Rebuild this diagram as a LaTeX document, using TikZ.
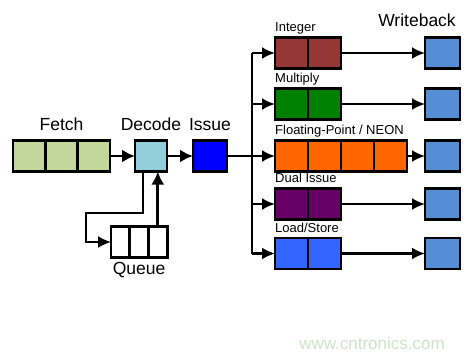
\documentclass[tikz,border=0pt]{standalone}
\usepackage{fontspec}
\setmainfont{Liberation Sans}
\usepackage{xcolor}
\usetikzlibrary{arrows.meta, positioning}

\definecolor{fetchgreen}{HTML}{C3D69B}
\definecolor{decodeblue}{HTML}{92CDDC}
\definecolor{issueblue}{HTML}{0000FF}
\definecolor{intbrown}{HTML}{953735}
\definecolor{mulgreen}{HTML}{008000}
\definecolor{fporange}{HTML}{FF6600}
\definecolor{dualpurple}{HTML}{660066}
\definecolor{lsublue}{HTML}{3366FF}
\definecolor{wbblue}{HTML}{558ED5}
\definecolor{watermark}{HTML}{CFE2C8}

\begin{document}
\begin{tikzpicture}[
        x=1pt, y=-1pt,
        cell/.style={
            draw,
            line width=2.8pt,
            outer sep=0pt,
            inner sep=0pt,
            minimum width=33pt,
            minimum height=31pt
        },
        qcell/.style={cell, fill=white, minimum width=18.7pt},
        biglabel/.style={font=\fontsize{17.5}{20}\selectfont, inner sep=0pt},
        smalllabel/.style={font=\fontsize{13}{15}\selectfont, inner sep=0pt, anchor=base west},
        arrow/.style={-{Latex[length=13pt, width=13pt]}, line width=2.8pt},
        thinarrow/.style={-{Latex[length=13pt, width=12pt]}, line width=2.2pt},
        bus/.style={line width=2.2pt}
    ]
        \useasboundingbox (0,0) rectangle (474,357);

        % front end
        \node[cell, fill=fetchgreen, minimum width=32.3pt] (fetch1) at (29.2,156) {};
        \node[cell, fill=fetchgreen, minimum width=32.3pt, right=0pt of fetch1] (fetch2) {};
        \node[cell, fill=fetchgreen, minimum width=32.3pt, right=0pt of fetch2] (fetch3) {};
        \node[cell, fill=decodeblue, minimum width=32pt] (decode) at (151,156) {};
        \node[cell, fill=issueblue, minimum width=34pt] (issue) at (210,156) {};

        \node[qcell] (queue1) at (120.4,242) {};
        \node[qcell, right=0pt of queue1] (queue2) {};
        \node[qcell, right=0pt of queue2] (queue3) {};

        \node[biglabel, above=10pt of fetch2] (fetchlabel) {Fetch};
        \node[biglabel, above=10pt of decode] (decodelabel) {Decode};
        \node[biglabel, above=10pt of issue] (issuelabel) {Issue};
        \node[biglabel, below=5pt of queue2] (queuelabel) {Queue};

        % execution pipelines
        \node[cell, fill=intbrown] (int1) at (291.5,53) {};
        \node[cell, fill=intbrown, right=0pt of int1] (int2) {};
        \node[cell, fill=mulgreen] (mul1) at (291.5,104) {};
        \node[cell, fill=mulgreen, right=0pt of mul1] (mul2) {};
        \node[cell, fill=fporange] (fp1) at (291.5,156) {};
        \node[cell, fill=fporange, right=0pt of fp1] (fp2) {};
        \node[cell, fill=fporange, right=0pt of fp2] (fp3) {};
        \node[cell, fill=fporange, right=0pt of fp3] (fp4) {};
        \node[cell, fill=dualpurple] (dual1) at (291.5,204) {};
        \node[cell, fill=dualpurple, right=0pt of dual1] (dual2) {};
        \node[cell, fill=lsublue] (lsu1) at (291.5,253.5) {};
        \node[cell, fill=lsublue, right=0pt of lsu1] (lsu2) {};

        \node[smalllabel] (intlabel) at ([yshift=6pt]int1.north west) {Integer};
        \node[smalllabel] (mullabel) at ([yshift=6pt]mul1.north west) {Multiply};
        \node[smalllabel] (fplabel) at ([yshift=6pt]fp1.north west) {Floating-Point / NEON};
        \node[smalllabel] (duallabel) at ([yshift=6pt]dual1.north west) {Dual Issue};
        \node[smalllabel] (lsulabel) at ([yshift=6pt]lsu1.north west) {Load/Store};

        % writeback
        \node[cell, fill=wbblue, minimum width=35pt] (intwb) at (442.5,53) {};
        \node[cell, fill=wbblue, minimum width=35pt] (mulwb) at (442.5,104) {};
        \node[cell, fill=wbblue, minimum width=35pt] (fpwb) at (442.5,156) {};
        \node[cell, fill=wbblue, minimum width=35pt] (dualwb) at (442.5,204) {};
        \node[cell, fill=wbblue, minimum width=35pt] (lsuwb) at (442.5,253.5) {};
        \node[biglabel] (wblabel) at (417,20) {Writeback};

        \node[font=\fontsize{17}{20}\selectfont, text=watermark] (site) at (372,343) {www.cntronics.com};

        % connectors
        \coordinate (bus) at (252,156);
        \coordinate (qbend) at (86,213);

        \draw[arrow] (fetch3) -- (decode);
        \draw[arrow] (decode) -- (issue);
        \draw[thinarrow] ([xshift=-8pt]decode.south) |- (qbend) |- (queue1.west);
        \draw[arrow] (queue3.north) -- (queue3.north |- decode.south);

        \draw[thinarrow] (issue) -- (fp1);
        \draw[bus] (bus |- int1) -- (bus |- lsu1);
        \draw[thinarrow] (bus |- int1) -- (int1);
        \draw[thinarrow] (bus |- mul1) -- (mul1);
        \draw[thinarrow] (bus |- dual1) -- (dual1);
        \draw[thinarrow] (bus |- lsu1) -- (lsu1);

        \draw[thinarrow] (int2) -- (intwb);
        \draw[thinarrow] (mul2) -- (mulwb);
        \draw[thinarrow] (fp4) -- (fpwb);
        \draw[thinarrow] (dual2) -- (dualwb);
        \draw[thinarrow] (lsu2) -- (lsuwb);
    \end{tikzpicture}
\end{document}
